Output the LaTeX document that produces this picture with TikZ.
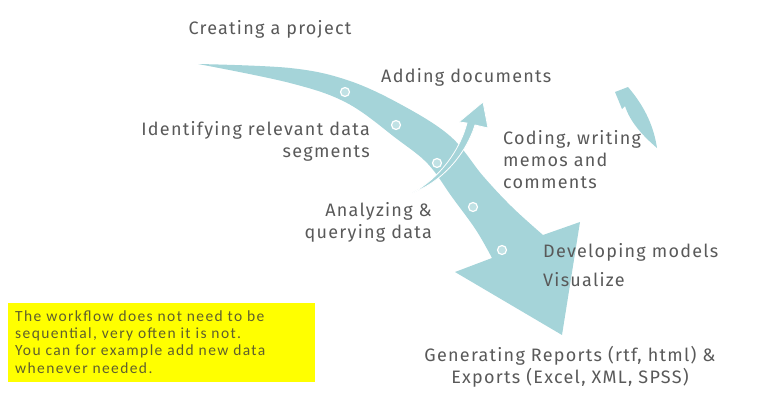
\documentclass[tikz,border=0pt]{standalone}
\usepackage{fontspec}
\setmainfont{Fira Sans}[LetterSpace=7]
\newfontfamily\boxfont{Carlito}[LetterSpace=9]
\definecolor{flow}{RGB}{165,212,217}
\definecolor{txt}{RGB}{89,89,89}
\definecolor{boxtxt}{RGB}{95,95,45}
\definecolor{note}{RGB}{255,255,0}
\begin{document}
\begin{tikzpicture}[x=1pt,y=-1pt,
  lbl/.style={inner sep=0pt,text=txt,font=\fontsize{18}{22}\selectfont},
  dot/.style={circle,draw=white,line width=1.2pt,fill=flow!70!white,minimum size=9pt,inner sep=0pt}]
\useasboundingbox (0,0) rectangle (768,404);
% main flow arrow
\fill[flow] plot[smooth,tension=0.6] coordinates {(198,64) (290,68) (347,80) (400,104) (450,136) (483,176) (512,207) (543,235)}
  -- (580,222) -- (562,335) -- (455,272) -- (492,258)
  -- plot[smooth,tension=0.6] coordinates {(492,258) (476,230) (452,197) (428,164) (397,139) (347,103) (290,83) (198,64)} -- cycle;
% dots
\node[dot] (d1) at (345,92) {};
\node[dot] (d2) at (396,125) {};
\node[dot] (d3) at (437,163) {};
\node[dot] (d4) at (473,207) {};
\node[dot] (d5) at (502,250) {};
% thin arrow (adding documents)
\filldraw[fill=flow,draw=white,line width=0.8pt] (412,193) .. controls (440,178) and (460,150) .. (467,123)
  -- (459,122) -- (483,102) -- (488,128) -- (475,125)
  .. controls (466,154) and (442,182) .. (412,193) -- cycle;
% right loop arrow
\fill[flow] (657,148) .. controls (654,128) and (646,108) .. (628,87)
  -- (615,92) -- (622,109) -- (625,106)
  .. controls (630,122) and (643,136) .. (657,148) -- cycle;
% labels
\node[lbl] (create) at (270,29) {Creating a project};
\node[lbl,anchor=west] (adding) at (381,77) {Adding documents};
\node[lbl,anchor=east,align=right] (ident) at (370,141) {Identifying relevant data\\segments};
\node[lbl,anchor=west,align=left] (coding) at (503,160) {Coding, writing\\memos and\\comments};
\node[lbl,anchor=east,align=right] (analyz) at (432,222) {Analyzing \&\\querying data};
\node[lbl,anchor=west] (devel) at (543,252) {Developing models};
\node[lbl,anchor=west] (visual) at (543,280) {Visualize};
\node[lbl,align=center] (gener) at (570,367) {Generating Reports (rtf, html) \&\\Exports (Excel, XML, SPSS)};
% note box
\fill[note] (8,303) rectangle (315,382);
\node[inner sep=0pt,anchor=west,align=left,text=boxtxt,font=\boxfont\fontsize{15.5}{17.3}\selectfont] (notetext) at (15,342)
  {The workflow does not need to be\\sequential, very often it is not.\\You can for example add new data\\whenever needed.};
\end{tikzpicture}
\end{document}
